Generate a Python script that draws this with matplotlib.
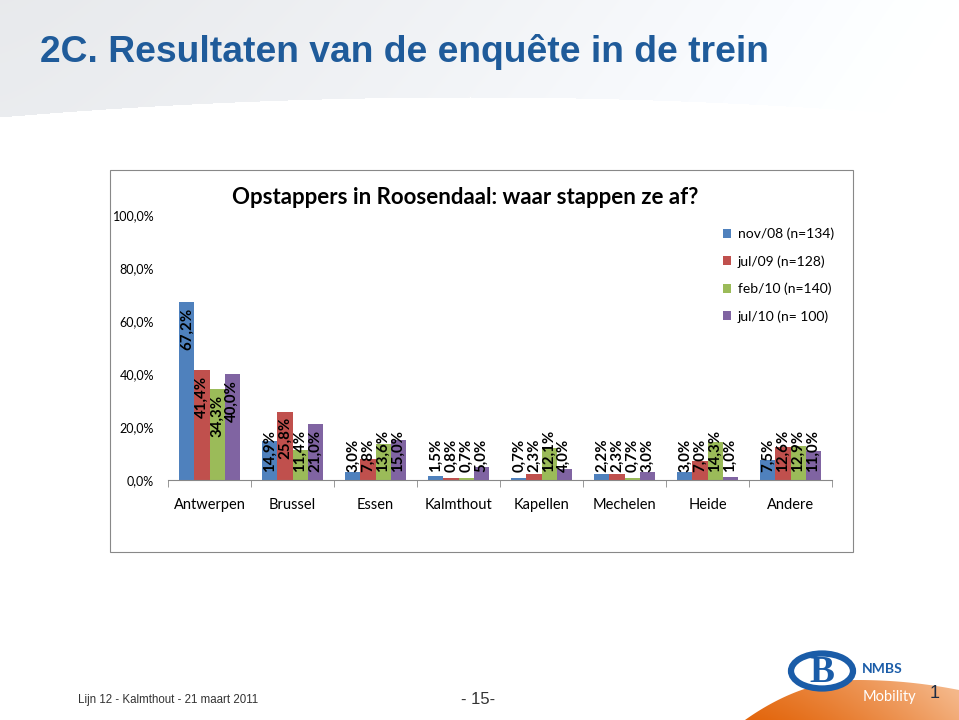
import numpy as np
import matplotlib
matplotlib.use("Agg")
import matplotlib.pyplot as plt
from matplotlib.patches import Rectangle, Ellipse, Polygon

# chart data
categories = ["Antwerpen", "Brussel", "Essen", "Kalmthout", "Kapellen",
              "Mechelen", "Heide", "Andere"]
series_names = ["nov/08 (n=134)", "jul/09 (n=128)", "feb/10 (n=140)",
                "jul/10 (n= 100)"]
nov08 = [67.2, 14.9, 3.0, 1.5, 0.7, 2.2, 3.0, 7.5]
jul09 = [41.4, 25.8, 7.8, 0.8, 2.3, 2.3, 7.0, 12.6]
feb10 = [34.3, 11.4, 13.6, 0.7, 12.1, 0.7, 14.3, 12.9]
jul10 = [40.0, 21.0, 15.0, 5.0, 4.0, 3.0, 1.0, 11.0]
y_ticks = [0, 20, 40, 60, 80, 100]

colors = ["#4F81BD", "#C0504D", "#9BBB59", "#8064A2"]
FONT = ["Lato", "DejaVu Sans"]
ARIAL = ["Liberation Sans", "DejaVu Sans"]
W, H = 959, 720

fig = plt.figure(figsize=(W / 100, H / 100), dpi=100)

# decoration layer in pixel coordinates
deco = fig.add_axes([0, 0, 1, 1], zorder=0)
deco.axis("off")

# grey band at the top with a curved lower edge
xs = np.arange(W)
edge = 97 + 20 * ((xs - 470) / 470.0) ** 2
band = np.ones((125, W, 3))
shade = 0.91 + 0.09 * (xs / W) ** 1.3
for yy in range(125):
    inside = yy < edge
    band[yy, inside, :] = (shade[inside] + 0.01 * yy / 125)[:, None] * np.array([1.0, 1.008, 1.02])
band = np.clip(band, 0, 1)
deco.imshow(band, extent=(0, W, 125, 0), aspect="auto", zorder=0)

deco.text(40, 52, "2C. Resultaten van de enquête in de trein",
          family=ARIAL, weight="bold", fontsize=26.8, color="#1f5b9a",
          va="center", ha="left", zorder=2)

# chart frame
deco.add_patch(Rectangle((110, 170), 743, 382, fill=False,
                         edgecolor="#888888", lw=0.8, zorder=1))
deco.text(232, 198, "Opstappers in Roosendaal: waar stappen ze af?",
          family=FONT, weight="bold", fontsize=16, va="center", ha="left")

# footer
deco.text(78, 700, "Lijn 12 - Kalmthout - 21 maart 2011",
          family=ARIAL, fontsize=8.3, color="#333333", va="center")
deco.text(478, 699, "- 15-", family=ARIAL,
          fontsize=12, color="#333333", va="center", ha="center")

# orange hump at the bottom right, gradient clipped to its outline
hx = np.linspace(745, 959, 120)
hy = np.where(hx < 858, 680 + 40 * ((hx - 858) / 113) ** 2,
              680 + 10 * ((hx - 858) / 101) ** 2)
hump = Polygon(np.column_stack([np.r_[hx, 959], np.r_[hy, 720]]),
               closed=True, facecolor="none", edgecolor="none")
deco.add_patch(hump)
gx = np.linspace(0, 1, 200)
gy = np.linspace(0, 1, 50)
gxx, gyy = np.meshgrid(gx, gy)
mix = np.clip(0.85 * gxx ** 1.4 + 0.25 * (1 - gyy), 0, 1)[..., None]
dark = np.array([0.89, 0.40, 0.05])
light = np.array([0.96, 0.72, 0.54])
grad = dark * (1 - mix) + light * mix
im = deco.imshow(grad, extent=(745, 959, 720, 678), aspect="auto", zorder=1)
im.set_clip_path(hump)
deco.set_xlim(0, W)
deco.set_ylim(H, 0)

deco.text(863, 697, "Mobility", family=FONT, fontsize=10.5, color="white",
          va="center", ha="left", zorder=3)
deco.text(935, 693, "1", family=ARIAL, fontsize=13, color="#1c2c44",
          va="center", ha="center", zorder=3)

# NMBS logo
deco.add_patch(Ellipse((822, 671), 62, 35, facecolor="white",
                       edgecolor="#1A5CA8", lw=4.5, zorder=3))
deco.text(822, 672, "B", family=["Liberation Serif", "DejaVu Serif"],
          weight="bold", fontsize=27, color="#1A5CA8", va="center",
          ha="center", zorder=4)
deco.text(862, 669, "NMBS", family=FONT, weight="bold", fontsize=10,
          color="#1A5CA8", va="center", ha="left", zorder=3)

# the bar chart
ax = fig.add_axes([168 / W, 1 - 480 / H, 664 / W, 265 / H], zorder=2)
ax.patch.set_alpha(0)
x = np.arange(len(categories))
bw = 0.181
series = [nov08, jul09, feb10, jul10]
handles = []
for i, vals in enumerate(series):
    pos = x + (i - 1.5) * bw
    b = ax.bar(pos, vals, width=bw, color=colors[i], label=series_names[i])
    handles.append(b)
    for px, v in zip(pos, vals):
        ax.text(px, max(v - 18, 3), ("%.1f%%" % v).replace(".", ","),
                rotation=90, ha="center", va="bottom", family=FONT,
                weight="bold", fontsize=10.8)

ax.set_xlim(-0.5, len(categories) - 0.5)
ax.set_ylim(0, 100)
ax.set_yticks(y_ticks)
ax.set_yticklabels([("%.1f%%" % v).replace(".", ",") for v in y_ticks],
                   family=FONT, fontsize=9)
ax.tick_params(axis="y", length=0, pad=10)
ax.set_xticks(x)
ax.set_xticklabels(categories, family=FONT, fontsize=10.5)
ax.tick_params(axis="x", length=0, pad=13)
ax.set_xticks(np.arange(-0.5, len(categories)), minor=True)
ax.tick_params(axis="x", which="minor", length=5, color="#888888")
for s in ["top", "right", "left"]:
    ax.spines[s].set_visible(False)
ax.spines["bottom"].set_color("#888888")

leg = ax.legend(handles=handles, loc="upper left",
                bbox_to_anchor=(710 / W, 1 - 215 / H),
                bbox_transform=fig.transFigure, frameon=False,
                prop={"family": FONT, "size": 10}, handlelength=0.6,
                handleheight=0.6, handletextpad=0.5, labelspacing=1.08)

fig.savefig("out.png", dpi=100)
